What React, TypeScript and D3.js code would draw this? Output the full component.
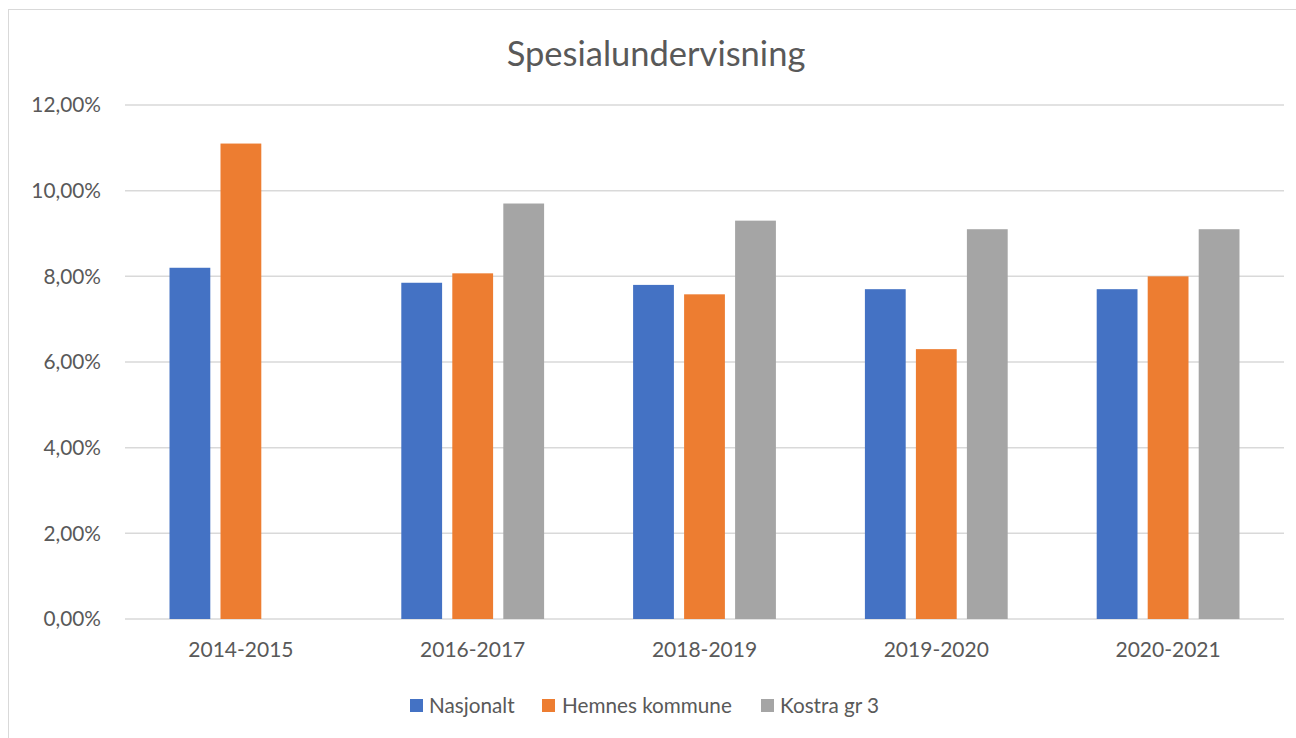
import React from "react";
import * as d3 from "d3";

const categories = ["2014-2015", "2016-2017", "2018-2019", "2019-2020", "2020-2021"];
const seriesNames = ["Nasjonalt", "Hemnes kommune", "Kostra gr 3"];
const nasjonalt = [8.2, 7.85, 7.8, 7.7, 7.7];
const hemnes = [11.1, 8.07, 7.58, 6.3, 8.0];
const kostra: (number | null)[] = [null, 9.7, 9.3, 9.1, 9.1];
const yTicks = [0, 2, 4, 6, 8, 10, 12];
const colors = ["#4472C4", "#ED7D31", "#A5A5A5"];

const FONT = "Lato, 'Open Sans', sans-serif";
const TEXT = "#595959";

export default function App() {
  const values = [nasjonalt, hemnes, kostra];
  const y = d3.scaleLinear().domain([0, 12]).range([619, 105]);
  const x0 = d3.scaleBand<string>().domain(categories).range([125, 1284]).paddingInner(0).paddingOuter(0);
  const groupW = 153;
  const x1 = d3.scaleBand<string>().domain(seriesNames).range([0, groupW]).paddingInner(0.2).paddingOuter(0.1);
  const fmt = (v: number) => v.toFixed(2).replace(".", ",") + "%";

  const legendItems = [
    { name: seriesNames[0], sx: 410, tx: 429 },
    { name: seriesNames[1], sx: 542, tx: 562 },
    { name: seriesNames[2], sx: 761, tx: 780 },
  ];

  return (
    <svg width={1296} height={738} style={{ position: "absolute", left: 0, top: 0, background: "#fff" }}>
      <rect x={8.5} y={9.5} width={1300} height={740} fill="#fff" stroke="#d9d9d9" strokeWidth={1} />
      <text x={656} y={66} textAnchor="middle" fontFamily={FONT} fontSize={34.5} fill={TEXT}>
        Spesialundervisning
      </text>
      {yTicks.map((t) => (
        <g key={t}>
          <line x1={125} x2={1284} y1={y(t)} y2={y(t)} stroke="#d9d9d9" strokeWidth={1.5} />
          <text x={101} y={y(t)} dy="0.36em" textAnchor="end" fontFamily={FONT} fontSize={20.8} fill={TEXT}>
            {fmt(t)}
          </text>
        </g>
      ))}
      {categories.map((c, i) => {
        const cx = (x0(c) as number) + x0.bandwidth() / 2;
        const gx = cx - groupW / 2;
        return (
          <g key={c}>
            {seriesNames.map((s, j) => {
              const v = values[j][i];
              if (v == null) return null;
              return (
                <rect
                  key={s}
                  x={gx + (x1(s) as number)}
                  y={y(v)}
                  width={x1.bandwidth()}
                  height={y(0) - y(v)}
                  fill={colors[j]}
                />
              );
            })}
            <text x={cx} y={657} textAnchor="middle" fontFamily={FONT} fontSize={21} fill={TEXT}>
              {c}
            </text>
          </g>
        );
      })}
      {legendItems.map((l, i) => (
        <g key={l.name}>
          <rect x={l.sx} y={699} width={13} height={13} fill={colors[i]} />
          <text x={l.tx} y={713} fontFamily={FONT} fontSize={20.7} fill={TEXT}>
            {l.name}
          </text>
        </g>
      ))}
    </svg>
  );
}
